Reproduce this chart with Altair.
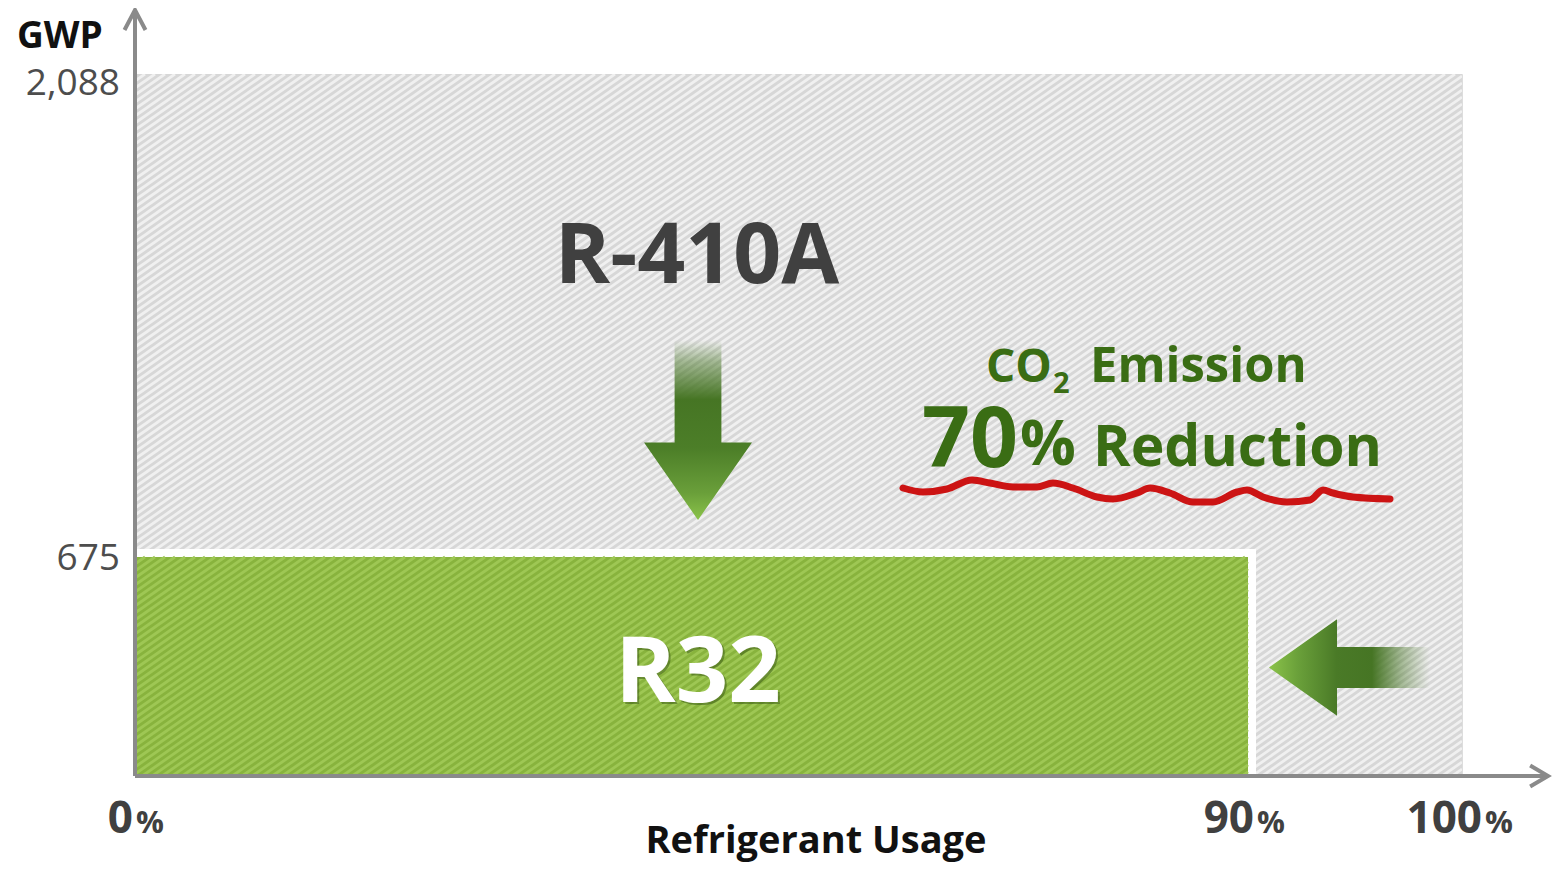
import altair as alt
import numpy as np
import pandas as pd

# ---------------- data ----------------
refrigerants = ["R-410A", "R32"]
usage_share = [100, 90]            # % refrigerant usage
gwp_values = [2088, 675]           # global warming potential
y_tick_values = [2088, 675]
y_tick_labels = ["2,088", "675"]
x_tick_values = [0, 90, 100]
x_tick_labels = ["0", "90", "100"]

# ---------------- layout / scales ----------------
PAD_LEFT, PAD_TOP, PAD_RIGHT, PAD_BOTTOM = 127, 66, 92, 89
PAGE = 8
PLOT_LEFT, PLOT_TOP = PAD_LEFT + PAGE, PAD_TOP + PAGE
W, H = 1327, 702
X_END, Y_END = 104, 2276           # axis arrow tips (beyond data)
X_DOMAIN = [0, 90, 100, X_END]
X_RANGE = [0, 1113, 1327, 1413]
Y_DOMAIN = [0, 675, 2088, Y_END]
Y_RANGE = [702, 483, 0, -64]

xs = alt.Scale(domain=X_DOMAIN, range=X_RANGE, nice=False, zero=False)
ys = alt.Scale(domain=Y_DOMAIN, range=Y_RANGE, nice=False, zero=False)


def lerp(v, xp, fp):
    xp, fp = list(xp), list(fp)
    if xp[0] > xp[-1]:
        xp, fp = xp[::-1], fp[::-1]
    v = float(v)
    if v <= xp[0]:
        i = 0
    elif v >= xp[-1]:
        i = len(xp) - 2
    else:
        i = max(j for j in range(len(xp) - 1) if xp[j] <= v)
    t = (v - xp[i]) / (xp[i + 1] - xp[i])
    return fp[i] + t * (fp[i + 1] - fp[i])


def px_to_x(px):
    return lerp(px - PLOT_LEFT, X_RANGE, X_DOMAIN)


def py_to_y(py):
    return lerp(py - PLOT_TOP, Y_RANGE, Y_DOMAIN)


def X(f="x"):
    return alt.X(f"{f}:Q", scale=xs, axis=None)


def Y(f="y"):
    return alt.Y(f"{f}:Q", scale=ys, axis=None)


def hatch(x_hi, y_hi, step=7.0, slope=0.7):
    """diagonal stripe segments covering the rectangle [0,x_hi] x [0,y_hi]"""
    vx0, vx1 = lerp(0, X_DOMAIN, X_RANGE), lerp(x_hi, X_DOMAIN, X_RANGE)
    vt, vb = lerp(y_hi, Y_DOMAIN, Y_RANGE), lerp(0, Y_DOMAIN, Y_RANGE)
    rows = []
    k0 = int(np.floor((slope * vx0 + vt) / step))
    k1 = int(np.ceil((slope * vx1 + vb) / step))
    for k in range(k0, k1 + 1):
        c = k * step
        xa = max(vx0, (c - vb) / slope)
        xb = min(vx1, (c - vt) / slope)
        if xb - xa < 0.5:
            continue
        ya, yb = c - slope * xa, c - slope * xb
        rows.append(dict(
            x=lerp(xa, X_RANGE, X_DOMAIN), x2=lerp(xb, X_RANGE, X_DOMAIN),
            y=lerp(ya, Y_RANGE, Y_DOMAIN), y2=lerp(yb, Y_RANGE, Y_DOMAIN)))
    return pd.DataFrame(rows)


bars = pd.DataFrame({"refrigerant": refrigerants, "usage": usage_share,
                     "gwp": gwp_values, "x0": [0, 0], "y0": [0, 0]})
old = bars[bars.refrigerant == "R-410A"]
new = bars[bars.refrigerant == "R32"]


def rect(df, **kw):
    return alt.Chart(df).mark_rect(**kw).encode(
        x=X("x0"), x2=alt.X2("usage:Q"), y=Y("y0"), y2=alt.Y2("gwp:Q"))


gray_rect = rect(old, fill="#d7d7d7")
gray_hatch = alt.Chart(hatch(usage_share[0], gwp_values[0])).mark_rule(
    color="#f0f0f0", strokeWidth=2.8, clip=True).encode(
    x=X("x"), x2=alt.X2("x2:Q"), y=Y("y"), y2=alt.Y2("y2:Q"))
halo = rect(new, fill="white", stroke="white", strokeWidth=16)
green_rect = rect(new, fill="#88b33d")
green_hatch = alt.Chart(hatch(usage_share[1], gwp_values[1])).mark_rule(
    color="#9ec754", strokeWidth=2.8).encode(
    x=X("x"), x2=alt.X2("x2:Q"), y=Y("y"), y2=alt.Y2("y2:Q"))

# ---------------- axes ----------------
AXIS_C = "#8a8a8a"
axes_df = pd.DataFrame({"x": [0, 0], "x2": [0, X_END], "y": [0, 0], "y2": [Y_END, 0]})
axis_lines = alt.Chart(axes_df).mark_rule(color=AXIS_C, strokeWidth=4).encode(
    x=X("x"), x2=alt.X2("x2:Q"), y=Y("y"), y2=alt.Y2("y2:Q"))
y_head = alt.Chart(pd.DataFrame({"x": [0], "y": [Y_END]})).mark_point(
    shape="M-1,1.9L0,0L1,1.9", size=441, filled=False, stroke=AXIS_C,
    strokeWidth=4, opacity=1).encode(x=X(), y=Y())
x_head = alt.Chart(pd.DataFrame({"x": [X_END], "y": [0]})).mark_point(
    shape="M-1.7,-1L0,0L-1.7,1", size=441, filled=False, stroke=AXIS_C,
    strokeWidth=4, opacity=1).encode(x=X(), y=Y())

FONT = "Open Sans"
layers = [gray_rect, gray_hatch, halo, green_rect, green_hatch]

# y tick labels
y_tick_dy = {2088: 21, 675: 13}
for v, lab in zip(y_tick_values, y_tick_labels):
    d = pd.DataFrame({"x": [0], "y": [v], "t": [lab]})
    layers.append(alt.Chart(d).mark_text(
        font=FONT, fontSize=37, fontWeight="normal", color="#4d4d4d", align="right",
        baseline="alphabetic", dx=-15, dy=y_tick_dy[v]).encode(x=X(), y=Y(), text="t:N"))

# x tick labels (bold number + small %)
x_tick_dx = {0: -2, 90: 6, 100: 20}
for v, lab in zip(x_tick_values, x_tick_labels):
    d = pd.DataFrame({"x": [v], "y": [0], "t": [lab], "p": ["%"]})
    layers.append(alt.Chart(d).mark_text(
        font=FONT, fontSize=44, fontWeight="bold", color="#404040", align="right",
        baseline="alphabetic", dx=x_tick_dx[v], dy=57).encode(x=X(), y=Y(), text="t:N"))
    layers.append(alt.Chart(d).mark_text(
        font=FONT, fontSize=31, fontWeight="bold", color="#404040", align="left",
        baseline="alphabetic", dx=x_tick_dx[v] + 3, dy=57).encode(x=X(), y=Y(), text="p:N"))

layers += [axis_lines, y_head, x_head]


# ---------------- annotations (anchors, page px) ----------------
def label(text, px, py, size, color, align="left", weight="bold", dx=0, dy=0, opacity=1):
    d = pd.DataFrame({"x": [px_to_x(px)], "y": [py_to_y(py)], "t": [text]})
    return alt.Chart(d).mark_text(
        font=FONT, fontSize=size, fontWeight=weight, color=color, align=align,
        baseline="alphabetic", dx=dx, dy=dy, opacity=opacity).encode(
        x=X(), y=Y(), text="t:N")


GREEN_TXT = "#3a6d14"
layers += [
    label("GWP", 17, 48, 37, "#111111"),
    label("Refrigerant Usage", 816, 853, 38, "#111111", align="center"),
    label("R-410A", 697, 283, 84, "#404040", align="center"),
    label("R32", 698, 702, 92, "#2c4a0e", align="center", dx=2, dy=2, opacity=0.45),
    label("R32", 698, 702, 92, "#ffffff", align="center"),
    label("CO", 1052, 382, 46, GREEN_TXT, align="right"),
    label("2", 1053, 393, 29, GREEN_TXT),
    label("Emission", 1090, 382, 49, GREEN_TXT),
    label("70", 922, 467, 84, GREEN_TXT),
    label("%", 1020, 465, 62, GREEN_TXT),
    label("Reduction", 1093, 466, 57, GREEN_TXT),
]

# red hand-drawn underline
wave_px = [(903, 488), (923, 492), (947, 489), (972, 480), (990, 483), (1013, 487),
           (1037, 487), (1053, 483), (1073, 488), (1097, 497), (1113, 499), (1137, 493),
           (1150, 488), (1170, 493), (1193, 502), (1213, 502), (1237, 492), (1247, 490),
           (1263, 497), (1287, 502), (1310, 500), (1323, 490), (1333, 493), (1353, 497),
           (1390, 499)]
wave = pd.DataFrame({"x": [px_to_x(p[0]) for p in wave_px],
                     "y": [py_to_y(p[1]) for p in wave_px],
                     "o": list(range(len(wave_px)))})
layers.append(alt.Chart(wave).mark_line(
    color="#cc1414", strokeWidth=7, interpolate="monotone", strokeCap="round").encode(
    x=X(), y=Y(), order="o:Q"))

# green gradient arrows
down_grad = alt.LinearGradient(
    gradient="linear", x1=0, x2=0, y1=0, y2=1,
    stops=[alt.GradientStop(offset=0, color="rgba(70,117,36,0)"),
           alt.GradientStop(offset=0.12, color="rgba(70,117,36,0.45)"),
           alt.GradientStop(offset=0.33, color="#467524"),
           alt.GradientStop(offset=0.6, color="#4c7e28"),
           alt.GradientStop(offset=0.85, color="#6a9f3a"),
           alt.GradientStop(offset=1, color="#8bc34a")])
left_grad = alt.LinearGradient(
    gradient="linear", x1=0, x2=1, y1=0, y2=0,
    stops=[alt.GradientStop(offset=0, color="#8bc34a"),
           alt.GradientStop(offset=0.18, color="#6aa03a"),
           alt.GradientStop(offset=0.42, color="#4a7a27"),
           alt.GradientStop(offset=0.64, color="#467524"),
           alt.GradientStop(offset=0.82, color="rgba(70,117,36,0.45)"),
           alt.GradientStop(offset=1, color="rgba(70,117,36,0)")])

down_arrow = alt.Chart(pd.DataFrame({"x": [px_to_x(698)], "y": [py_to_y(430)]})).mark_point(
    shape="M-0.26,-1L0.26,-1L0.26,0.14L0.6,0.14L0,1L-0.6,0.14L-0.26,0.14Z",
    size=32400, filled=True, fill=down_grad, strokeWidth=0, opacity=1).encode(x=X(), y=Y())
left_arrow = alt.Chart(pd.DataFrame({"x": [px_to_x(1349.5)], "y": [py_to_y(667.5)]})).mark_point(
    shape="M-1,0L-0.155,-0.6L-0.155,-0.255L1,-0.255L1,0.255L-0.155,0.255L-0.155,0.6Z",
    size=25921, filled=True, fill=left_grad, strokeWidth=0, opacity=1).encode(x=X(), y=Y())
layers += [down_arrow, left_arrow]

chart = alt.layer(*layers).properties(
    width=W, height=H,
    autosize=alt.AutoSizeParams(type="none"),
    padding={"left": PAD_LEFT, "top": PAD_TOP, "right": PAD_RIGHT, "bottom": PAD_BOTTOM},
).configure_view(stroke=None).configure(background="white")

chart.save("out.html", embed_options={"renderer": "svg", "actions": False})
